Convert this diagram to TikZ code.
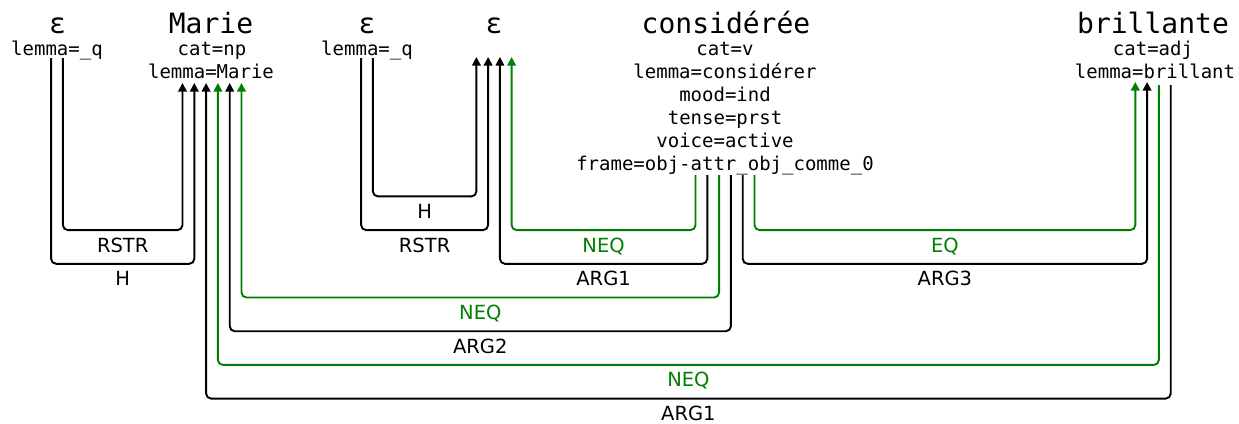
\documentclass[tikz,border=0pt]{standalone}
\usepackage{fontspec}
\usetikzlibrary{arrows.meta}
\newfontfamily\dvmono{DejaVu Sans Mono}
\newfontfamily\dvsans{DejaVu Sans}
\newcommand\wordfnt{\dvmono\fontsize{28}{30}\selectfont}
\newcommand\featfnt{\dvmono\fontsize{19}{23}\selectfont}
\newcommand\lblfnt{\dvsans\fontsize{19.5}{22}\selectfont}
\definecolor{eqgreen}{RGB}{0,128,0}
\tikzset{
  word/.style={font=\wordfnt, anchor=base, inner sep=0pt},
  feat/.style={font=\featfnt, anchor=base, inner sep=0pt},
  lbl/.style={font=\lblfnt, anchor=base, inner sep=0pt, midway, yshift=-22pt},
  edge/.style={line width=1.9pt, rounded corners=5pt, -{Triangle[length=8.5pt,width=8.5pt]}},
  gedge/.style={edge, color=eqgreen}
}
\begin{document}
\begin{tikzpicture}[x=1pt,y=-1pt]
\useasboundingbox (0,0) rectangle (1239,423);
% words
\node[word] (w1) at (57.5,33) {ε};
\node[feat] (w1f1) at (57,55) {lemma=\_q};
\node[word] (w2) at (211,33) {Marie};
\node[feat] (w2f1) at (212,55) {cat=np};
\node[feat] (w2f2) at (211,78) {lemma=Marie};
\node[word] (w3) at (367,33) {ε};
\node[feat] (w3f1) at (367,55) {lemma=\_q};
\node[word] (w4) at (494,33) {ε};
\node[word] (w5) at (726,33) {considérée};
\node[feat] (w5f1) at (725,55) {cat=v};
\node[feat] (w5f2) at (725,78) {lemma=considérer};
\node[feat] (w5f3) at (725,101) {mood=ind};
\node[feat] (w5f4) at (725,124) {tense=prst};
\node[feat] (w5f5) at (725,147) {voice=active};
\node[feat] (w5f6) at (725,170) {frame=obj-attr\_obj\_comme\_0};
\node[word] (w6) at (1153,33) {brillante};
\node[feat] (w6f1) at (1153,55) {cat=adj};
\node[feat] (w6f2) at (1155,78) {lemma=brillant};
% levels
\coordinate (lev1) at (0,196.4);
\coordinate (lev2) at (0,230.1);
\coordinate (lev3) at (0,263.8);
\coordinate (lev4) at (0,297.5);
\coordinate (lev5) at (0,331.2);
\coordinate (lev6) at (0,364.9);
\coordinate (lev7) at (0,398.6);
% ports
\coordinate (e1a) at (51.1,58);
\coordinate (e1b) at (62.9,58);
\coordinate (e2a) at (361.1,58);
\coordinate (e2b) at (372.9,58);
\coordinate (ma1) at (182.5,83);
\coordinate (ma2) at (194.3,83);
\coordinate (ma3) at (206.1,83);
\coordinate (ma4) at (217.9,83);
\coordinate (ma5) at (229.7,83);
\coordinate (ma6) at (241.5,83);
\coordinate (ea1) at (476.4,57);
\coordinate (ea2) at (488.1,57);
\coordinate (ea3) at (499.9,57);
\coordinate (ea4) at (511.6,57);
\coordinate (c1) at (695.5,175);
\coordinate (c2) at (707.3,175);
\coordinate (c3) at (719.1,175);
\coordinate (c4) at (730.9,175);
\coordinate (c5) at (742.7,175);
\coordinate (c6) at (754.5,175);
\coordinate (b1) at (1135.3,82);
\coordinate (b2) at (1147.1,82);
\coordinate (b3) at (1158.9,85);
\coordinate (b4) at (1170.7,85);
% edges
\draw[edge] (e1b) -- (e1b |- lev2) -- node[lbl]{RSTR} (ma1 |- lev2) -- (ma1);
\draw[edge] (e1a) -- (e1a |- lev3) -- node[lbl]{H} (ma2 |- lev3) -- (ma2);
\draw[edge] (e2b) -- (e2b |- lev1) -- node[lbl]{H} (ea1 |- lev1) -- (ea1);
\draw[edge] (e2a) -- (e2a |- lev2) -- node[lbl]{RSTR} (ea2 |- lev2) -- (ea2);
\draw[gedge] (c1) -- (c1 |- lev2) -- node[lbl]{NEQ} (ea4 |- lev2) -- (ea4);
\draw[edge] (c2) -- (c2 |- lev3) -- node[lbl]{ARG1} (ea3 |- lev3) -- (ea3);
\draw[gedge] (c6) -- (c6 |- lev2) -- node[lbl]{EQ} (b1 |- lev2) -- (b1);
\draw[edge] (c5) -- (c5 |- lev3) -- node[lbl]{ARG3} (b2 |- lev3) -- (b2);
\draw[gedge] (c3) -- (c3 |- lev4) -- node[lbl]{NEQ} (ma6 |- lev4) -- (ma6);
\draw[edge] (c4) -- (c4 |- lev5) -- node[lbl]{ARG2} (ma5 |- lev5) -- (ma5);
\draw[gedge] (b3) -- (b3 |- lev6) -- node[lbl]{NEQ} (ma4 |- lev6) -- (ma4);
\draw[edge] (b4) -- (b4 |- lev7) -- node[lbl]{ARG1} (ma3 |- lev7) -- (ma3);
\end{tikzpicture}
\end{document}
